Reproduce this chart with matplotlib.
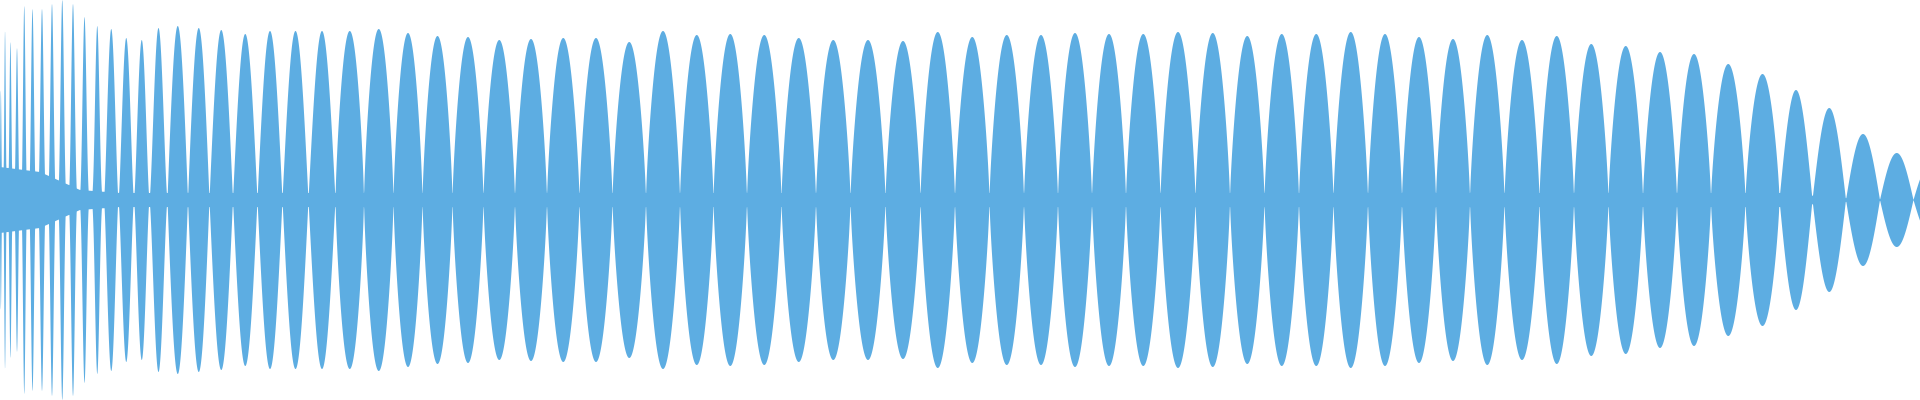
import numpy as np
import matplotlib
matplotlib.use("Agg")
import matplotlib.pyplot as plt

# Peak positions and envelope amplitudes of the waveform
peak_x = [0.7, 4.7, 10, 17, 24, 32, 42, 52, 62, 73, 84, 97, 111, 126, 142, 157,
          178, 198, 221, 245, 270, 295, 322, 349, 379,
          408, 437, 468, 499, 531, 563, 596, 629, 663, 697, 730,
          764, 799, 833, 868, 903, 938, 972, 1007, 1041, 1075, 1109,
          1143, 1178, 1213, 1247, 1282, 1316, 1351, 1385, 1419, 1453, 1487,
          1522, 1557, 1591, 1626, 1660, 1694, 1728, 1763, 1796, 1829, 1863, 1897, 1930]
peak_amp = [110, 169, 158, 152, 194, 191, 191, 196, 200, 196, 183, 174, 171, 162, 160, 172,
            174, 172, 170, 166, 169, 169, 169, 169, 171,
            167, 164, 163, 160, 161, 162, 162, 158, 169, 165, 166,
            165, 162, 160, 160, 159, 168, 163, 165, 165, 167, 166,
            166, 168, 167, 164, 166, 166, 168, 166, 163, 161, 165,
            160, 164, 156, 154, 148, 146, 136, 126, 110, 92, 66, 47, 35]
# Flat band around the centre line
band_x = [0, 40, 80, 120, 1780, 1840, 1920]
band_amp = [33, 28, 10, 7, 7, 2, 0]

px = np.array(peak_x, float)
pa = np.array(peak_amp, float)
nodes = np.concatenate([[-1.0], (px[:-1] + px[1:]) / 2, [1946.0]])

x = np.linspace(0, 1920, 12000)
env = np.zeros_like(x)
for i in range(len(px)):
    a, b = nodes[i], nodes[i + 1]
    m = (x >= a) & (x <= b)
    w = b - a
    t = np.clip((x[m] - a) / w, 0, 1)
    p = 4 if w < 14 else (1.5 if w < 20 else (1.0 if w < 28 else 0.75))
    if px[i] > 1780:
        p = 1.0
    env[m] = pa[i] * np.sin(np.pi * t) ** p
env = np.maximum(env, np.interp(x, band_x, band_amp))

fig = plt.figure(figsize=(19.2, 4), dpi=100)
ax = fig.add_axes([0, 0, 1, 1])
ax.fill_between(x, -env, env, color="#5DADE2", linewidth=0)
ax.set_xlim(0, 1920)
ax.set_ylim(-200, 200)
ax.axis("off")
fig.savefig("out.png", dpi=100)
